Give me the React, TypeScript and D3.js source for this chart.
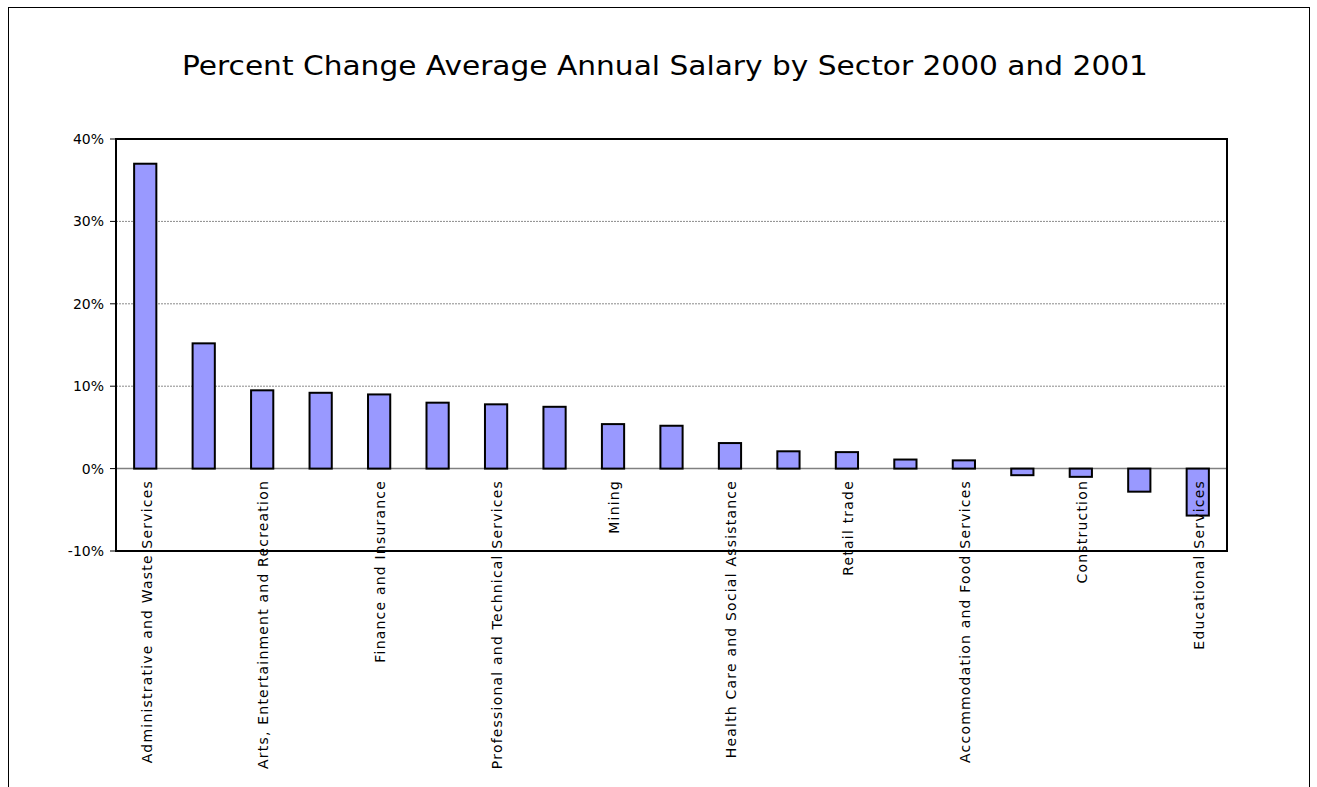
import React from "react";
import * as d3 from "d3";

// Sectors (only every other category is labelled in the original chart)
const categories: string[] = [
  "Administrative and Waste Services",
  "",
  "Arts, Entertainment and Recreation",
  "",
  "Finance and Insurance",
  "",
  "Professional and Technical Services",
  "",
  "Mining",
  "",
  "Health Care and Social Assistance",
  "",
  "Retail trade",
  "",
  "Accommodation and Food Services",
  "",
  "Construction",
  "",
  "Educational Services",
];

// Percent change in average annual salary, 2000 -> 2001
const values: number[] = [
  37.0, 15.2, 9.5, 9.2, 9.0, 8.0, 7.8, 7.5, 5.4, 5.2,
  3.1, 2.1, 2.0, 1.1, 1.0, -0.8, -1.0, -2.8, -5.7,
];

const yTicks: number[] = [-10, 0, 10, 20, 30, 40];
const title = "Percent Change Average Annual Salary by Sector 2000 and 2001";

const W = 1317;
const H = 787;
const plot = { left: 116, right: 1227, top: 139, bottom: 551 };

export default function App() {
  const idx = values.map((_, i) => i);
  const x = d3
    .scaleBand<number>()
    .domain(idx)
    .range([plot.left, plot.right])
    .paddingInner(0.62)
    .paddingOuter(0.31);
  const y = d3.scaleLinear().domain([-10, 40]).range([plot.bottom, plot.top]);
  const font = "'DejaVu Sans', Verdana, sans-serif";

  return (
    <svg
      width={W}
      height={H}
      style={{ position: "absolute", left: 0, top: 0, background: "#fff" }}
      fontFamily={font}
    >
      <rect x={0} y={0} width={W} height={H} fill="#fff" />
      {/* outer chart frame */}
      <rect x={8.5} y={7.5} width={1301} height={800} fill="none" stroke="#000" strokeWidth={1} />

      {/* title */}
      <text
        x={665}
        y={75}
        textAnchor="middle"
        fontSize={26}
        textLength={966}
        lengthAdjust="spacingAndGlyphs"
        fill="#000"
      >
        {title}
      </text>

      {/* gridlines */}
      {yTicks
        .filter((t) => t !== 0 && t !== 40 && t !== -10)
        .map((t) => (
          <line
            key={"g" + t}
            x1={plot.left}
            x2={plot.right}
            y1={y(t)}
            y2={y(t)}
            stroke="#8a8a8a"
            strokeWidth={1}
            strokeDasharray="2,1"
          />
        ))}

      {/* zero line */}
      <line x1={plot.left} x2={plot.right} y1={y(0)} y2={y(0)} stroke="#808080" strokeWidth={1.5} />

      {/* bars */}
      {values.map((v, i) => {
        const y0 = y(Math.max(0, v));
        const y1 = y(Math.min(0, v));
        return (
          <rect
            key={"b" + i}
            x={x(i)!}
            y={y0}
            width={x.bandwidth()}
            height={y1 - y0}
            fill="#9999ff"
            stroke="#000"
            strokeWidth={2}
          />
        );
      })}

      {/* plot border */}
      <rect
        x={plot.left}
        y={plot.top}
        width={plot.right - plot.left}
        height={plot.bottom - plot.top}
        fill="none"
        stroke="#000"
        strokeWidth={2}
      />

      {/* y ticks and labels */}
      {yTicks.map((t) => (
        <g key={"t" + t}>
          <line x1={plot.left - 6} x2={plot.left} y1={y(t)} y2={y(t)} stroke="#000" strokeWidth={1} />
          <text
            x={104}
            y={y(t)}
            dy="0.36em"
            textAnchor="end"
            fontSize={14}
            fill="#000"
          >
            {t + "%"}
          </text>
        </g>
      ))}

      {/* category labels */}
      {categories.map((c, i) => {
        if (!c) return null;
        const cx = x(i)! + x.bandwidth() / 2;
        return (
          <text
            key={"c" + i}
            transform={`translate(${cx},480) rotate(-90)`}
            dy="0.45em"
            textAnchor="end"
            fontSize={14}
            letterSpacing={1.2}
            fill="#000"
          >
            {c}
          </text>
        );
      })}
    </svg>
  );
}
